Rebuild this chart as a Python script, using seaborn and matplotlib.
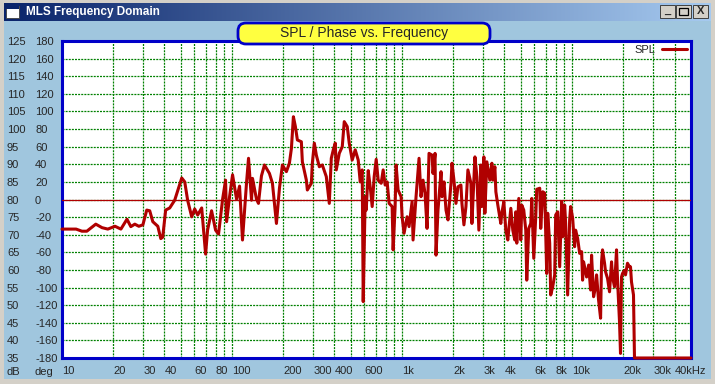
import matplotlib
matplotlib.use("Agg")
import matplotlib.pyplot as plt
import matplotlib.ticker as ticker
from matplotlib.colors import LinearSegmentedColormap
from matplotlib.patches import Rectangle, FancyBboxPatch
from matplotlib.transforms import IdentityTransform
import seaborn as sns
import pandas as pd
import numpy as np

sns.set_theme(style="white")
plt.rcParams['font.family'] = ['Liberation Sans', 'DejaVu Sans']

freq = [10.0, 10.4, 12.1, 13.1, 14.0, 15.8, 17.2, 18.6, 20.5, 22.2, 24.1, 25.4, 26.8, 28.3, 29.9,
        31.5, 32.8, 34.2, 36.6, 38.1, 39.1, 40.7, 43.0, 46.0, 50.6, 52.7, 54.8, 57.9, 60.3, 62.8,
        66.3, 69.9, 71.8, 75.8, 80.0, 83.3, 88.0, 91.6, 92.9, 96.7, 100.7, 106.3, 110.7, 115.2,
        121.6, 125.0, 130.2, 131.9, 139.2, 143.0, 148.9, 155.1, 165.9, 172.8, 182.4,
        190.0, 197.8, 208.7, 217.4, 223.4, 229.5, 235.8, 242.2, 255.6, 259.1, 273.5, 277.2, 292.6,
        296.6, 304.7, 313.1, 326.0, 339.5, 358.3, 373.1, 383.4, 393.9, 404.6, 410.2, 427.1, 444.8,
        456.9, 475.8, 488.8, 508.9, 530.0, 552.0, 567.2, 582.8, 590.7, 606.9, 615.2, 632.1, 649.3,
        666.9, 685.4, 704.1, 723.4, 753.3, 773.9, 795.1, 816.6, 839.2, 873.8, 885.7, 909.9, 922.3,
        947.2, 986.5, 1000, 1027, 1070, 1099, 1145, 1160, 1192, 1208, 1258, 1292, 1328, 1364, 1402,
        1440, 1500, 1520, 1562, 1583, 1626, 1694, 1717, 1764, 1812, 1862, 1939, 1965, 2018, 2074,
        2131, 2218, 2248, 2310, 2374, 2438, 2540, 2574, 2681, 2754,
        2828, 2905, 2945, 3026, 3067, 3151, 3282, 3373, 3418, 3512, 3560, 3656, 3807, 3859, 3965,
        4074, 4185, 4300, 4359, 4477, 4600, 4662, 4726, 4855, 4988, 5056, 5194, 5337, 5409, 5558,
        5710, 5788, 5946, 6109, 6192, 6448, 6536, 6714, 6898, 7086, 7183, 7379, 7480, 7685, 7896,
        8002, 8222, 8447, 8679, 8796, 9036, 9160, 9410, 9667, 9800, 10070, 10340, 10480, 10770,
        11070, 11370, 11520, 11680, 12000, 12160, 12500, 12840, 13010, 13370, 13730, 13920, 14300,
        14700, 14890, 15090, 15510, 15720, 16150, 16590, 17050, 17280, 17750, 18240, 18490, 18990,
        19250, 19510, 19780, 20320, 20600, 21160, 21740, 22040, 22340, 22950, 23260, 50000]
spl = [71.6, 71.6, 71.6, 71.0, 71.0, 73.0, 72.0, 71.6, 72.4, 71.6, 74.4, 72.3, 73.0, 72.4, 72.8,
       77.0, 76.8, 73.7, 72.4, 68.9, 69.3, 77.0, 77.6, 79.8, 86.1, 85.0, 79.8, 75.1, 77.3, 75.6,
       77.6, 64.5, 71.3, 76.8, 71.3, 70.2, 80.1, 85.5, 73.7, 80.8, 87.0, 80.1, 83.8, 68.5,
       84.6, 91.7, 79.8, 86.0, 80.1, 78.9, 86.7, 89.8, 87.4, 84.6, 73.2,
       83.2, 89.8, 87.9, 90.3, 94.5, 103.5, 100.7, 96.9, 96.4, 90.7, 85.5, 82.7, 84.6,
       90.3, 96.0, 92.6, 89.3, 89.8, 86.5, 78.9, 91.7, 94.1, 96.0, 88.4, 93.1, 95.0,
       102.1, 100.7, 96.0, 91.2, 94.1, 91.2, 85.0, 88.4, 51.0, 80.8, 77.0, 88.2, 83.6,
       78.0, 86.5, 91.4, 85.5, 84.6, 88.4, 84.1, 85.0, 78.9, 78.0, 65.7, 78.0, 89.8,
       82.7, 80.8, 75.1, 70.4, 75.1, 72.3, 79.4, 68.5, 77.0, 80.8, 91.7, 80.8, 85.5, 81.8, 71.8,
       93.1, 92.6, 87.4, 93.1, 64.2, 77.0, 87.9, 80.8, 85.0, 77.0, 74.2, 84.6, 90.3, 85.5, 78.9,
       83.6, 84.1, 78.9, 72.8, 78.0, 88.4, 84.6, 73.2, 92.1, 86.5,
       71.3, 89.8, 78.0, 92.1, 76.1, 90.7, 85.5, 90.3, 85.5, 89.3, 82.2, 78.4, 73.2, 76.1, 79.4,
       71.3, 68.5, 74.7, 77.5, 71.3, 68.5, 76.5, 67.6, 80.3, 68.5, 78.4, 77.0, 71.3, 57.1, 71.8,
       73.2, 80.3, 63.3, 75.1, 82.9, 83.2, 71.8, 82.2, 81.8, 59.0, 76.1, 67.6, 52.9, 55.2, 58.6,
       75.6, 76.5, 60.9, 79.4, 69.4, 78.4, 73.2, 52.9, 74.2, 78.0, 74.7, 66.6, 71.3, 69.0,
       64.7, 65.2, 57.1, 62.3, 59.5, 58.0, 61.4, 54.3, 64.2, 52.4, 55.2, 58.6, 51.5,
       46.3, 62.3, 65.7, 61.9, 59.5, 57.6, 53.8, 62.3, 58.0, 55.2, 65.7, 57.1, 45.3,
       36.3, 58.0, 59.0, 59.9, 58.6, 61.9, 60.9, 60.9, 56.6, 52.9, 35.0, 35.0]
phase_deg = 0

db_ticks = list(range(35, 130, 5))
deg_ticks = list(range(-180, 200, 20))
x_ticks = [10, 20, 30, 40, 60, 80, 100, 200, 300, 400, 600, 1000, 2000, 3000, 4000,
           6000, 8000, 10000, 20000, 30000, 40000]
x_labels = ["10", "20", "30", "40", "60", "80", "100", "200", "300", "400", "600", "1k",
            "2k", "3k", "4k", "6k", "8k", "10k", "20k", "30k", "40kHz"]

df = pd.DataFrame({"Frequency": freq, "SPL": spl})

W, H = 715, 384
win_bg = "#A0C6DE"
grey = "#D4D0C8"
curve = "#B00000"
frame_blue = "#0000C8"

fig = plt.figure(figsize=(W / 100, H / 100), dpi=100)
fig.patch.set_facecolor(win_bg)


def px_rect(x, y, w, h, **kw):
    # pixel box, y measured from top
    return Rectangle((x, H - y - h), w, h, transform=IdentityTransform(), **kw)


# window frame
fig.add_artist(px_rect(0, 0, W, 3, facecolor=grey, edgecolor="none"))
fig.add_artist(px_rect(0, 0, 4, H, facecolor=grey, edgecolor="none"))
fig.add_artist(px_rect(W - 4, 0, 4, H, facecolor=grey, edgecolor="none"))
fig.add_artist(px_rect(0, H - 5, W, 5, facecolor=grey, edgecolor="none"))

# title bar
ax_t = fig.add_axes([4 / W, 1 - 21 / H, (W - 8) / W, 18 / H])
ax_t.imshow(np.linspace(0, 1, 256)[None, :], aspect="auto", extent=[0, 1, 0, 1],
            cmap=LinearSegmentedColormap.from_list("tb", ["#0A246A", "#A6CAF0"]))
ax_t.set_axis_off()
ax_t.text(22 / (W - 8), 0.5, "MLS Frequency Domain", color="white", fontsize=8.5,
          fontweight="bold", ha="left", va="center", transform=ax_t.transAxes)
fig.add_artist(px_rect(6, 6, 13, 12, facecolor="white", edgecolor="#404040", lw=0.6))
fig.add_artist(px_rect(6, 6, 13, 3, facecolor="#0A246A", edgecolor="none"))
for bx, sym in [(660, "_"), (676, ""), (693, "X")]:
    fig.add_artist(px_rect(bx, 5, 15, 13, facecolor=grey, edgecolor="#404040", lw=0.7))
    if sym:
        fig.text((bx + 7.5) / W, 1 - 11.5 / H, sym, fontsize=8, fontweight="bold",
                 ha="center", va="center")
fig.add_artist(px_rect(679, 8, 9, 7, facecolor="none", edgecolor="black", lw=0.9))

# plot
ax = fig.add_axes([62 / W, (H - 358) / H, 629 / W, 317 / H])
ax.set_facecolor("white")
sns.lineplot(data=df, x="Frequency", y="SPL", ax=ax, color=curve, linewidth=2.2,
             estimator=None, sort=False, label="SPL")
ax.lines[-1].set_clip_on(False)
ax.lines[-1].set_zorder(5)
ax.axhline(80 + phase_deg / 4, color=curve, linewidth=0.9, zorder=4)

ax.set_xscale("log")
ax.set_xlim(10, 50000)
ax.set_ylim(35, 125)
ax.set_xticks(x_ticks, labels=x_labels)
ax.xaxis.set_minor_locator(ticker.LogLocator(base=10, subs=np.arange(1, 10), numticks=30))
ax.xaxis.set_minor_formatter(ticker.NullFormatter())
ax.set_yticks(db_ticks, labels=[str(v) for v in db_ticks])
ax.grid(True, which="both", color="#008000", linestyle=(0, (1.6, 0.9)), linewidth=0.9)
ax.set_axisbelow(True)

ax.tick_params(axis="x", which="both", length=0, labelsize=8, pad=6)
ax.tick_params(axis="y", which="both", length=0, labelsize=8, pad=39.6)
for lab in ax.get_xticklabels():
    lab.set_horizontalalignment("left")
for lab in ax.get_yticklabels():
    lab.set_horizontalalignment("left")

sec = ax.secondary_yaxis("left", functions=(lambda d: (d - 80) * 4, lambda p: p / 4 + 80))
sec.set_yticks(deg_ticks, labels=[str(v) for v in deg_ticks])
sec.tick_params(length=0, labelsize=8, pad=19.4)
sec.spines["left"].set_visible(False)
for lab in sec.get_yticklabels():
    lab.set_horizontalalignment("left")

ax.set_xlabel("")
ax.set_ylabel("dB", rotation=0, fontsize=8, ha="left", va="center")
ax.yaxis.set_label_coords((7 - 62) / 629, (358 - 372) / 317, transform=ax.transAxes)
sec.set_ylabel("deg", rotation=0, fontsize=8, ha="left", va="center")
sec.yaxis.set_label_coords((35 - 62) / 629, (358 - 372) / 317, transform=ax.transAxes)

for s in ax.spines.values():
    s.set_visible(True)
    s.set_color(frame_blue)
    s.set_linewidth(2.2)

leg = ax.legend(loc="upper right", bbox_to_anchor=(1, 1), markerfirst=False, frameon=False,
                fontsize=8, handlelength=2.3, handletextpad=0.55, borderaxespad=0.0,
                borderpad=0.35)

# yellow title box
box = FancyBboxPatch((238, H - 44), 252, 21, boxstyle="round,pad=0,rounding_size=8",
                     facecolor="#FFFF40", edgecolor=frame_blue, linewidth=2,
                     transform=IdentityTransform(), zorder=10)
fig.add_artist(box)
fig.text(364 / W, 1 - 33.5 / H, "SPL / Phase vs. Frequency", fontsize=10,
         ha="center", va="center", zorder=11)

fig.savefig("out.png", dpi=100, facecolor=fig.get_facecolor())
